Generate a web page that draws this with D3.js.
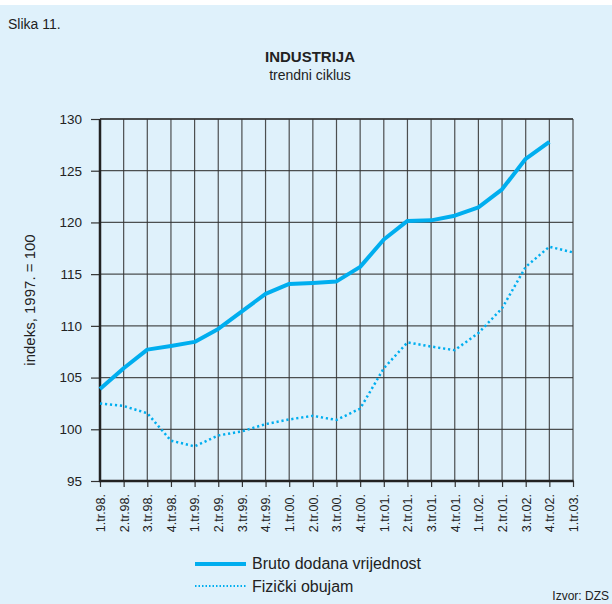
<!DOCTYPE html>
<html>
<head>
<meta charset="utf-8">
<script src="https://cdn.jsdelivr.net/npm/d3@7"></script>
<style>
  body { margin: 0; background: #fff; }
  svg { display: block; font-family: "Liberation Sans", Arial, sans-serif; }
</style>
</head>
<body>
<svg id="chart" width="612" height="604"></svg>
<script>
// quarters on the x axis
var quarters = ["1.tr.98.", "2.tr.98.", "3.tr.98.", "4.tr.98.", "1.tr.99.", "2.tr.99.", "3.tr.99.", "4.tr.99.",
  "1.tr.00.", "2.tr.00.", "3.tr.00.", "4.tr.00.", "1.tr.01.", "2.tr.01.", "3.tr.01.", "4.tr.01.",
  "1.tr.02.", "2.tr.01.", "3.tr.02.", "4.tr.02.", "1.tr.03."];

// index values, 1997 = 100
var brutoValues = [103.9, 105.9, 107.7, 108.05, 108.45, 109.7, 111.4, 113.1, 114.05, 114.15,
  114.3, 115.7, 118.35, 120.15, 120.2, 120.65, 121.45, 123.2, 126.15, 127.8];
var fizickiValues = [102.5, 102.25, 101.55, 98.9, 98.35, 99.4, 99.8, 100.5, 100.95, 101.3,
  100.9, 102.0, 105.9, 108.4, 108.0, 107.65, 109.3, 111.7, 115.7, 117.65, 117.1];

var yTicks = [95, 100, 105, 110, 115, 120, 125, 130];

var svg = d3.select("svg#chart");
var blue = "#00aeef";

// background panel
svg.append("rect")
  .attr("x", 0).attr("y", 5)
  .attr("width", 612).attr("height", 599)
  .attr("fill", "#dff1fb");

var plotLeft = 100, plotRight = 573, plotTop = 119, plotBottom = 481;

var x = d3.scalePoint()
  .domain(d3.range(quarters.length))
  .range([plotLeft, plotRight]);

var y = d3.scaleLinear()
  .domain([95, 130])
  .range([plotBottom, plotTop]);

// titles
svg.append("text").attr("x", 8).attr("y", 29)
  .attr("font-size", 14).attr("fill", "#222").text("Slika 11.");
svg.append("text").attr("x", 310).attr("y", 62)
  .attr("text-anchor", "middle").attr("font-size", 15).attr("font-weight", "bold")
  .attr("fill", "#222").text("INDUSTRIJA");
svg.append("text").attr("x", 310).attr("y", 80)
  .attr("text-anchor", "middle").attr("font-size", 14)
  .attr("fill", "#222").text("trendni ciklus");

// grid
svg.append("g").selectAll("line.vgrid")
  .data(d3.range(1, quarters.length))
  .enter().append("line")
  .attr("class", "vgrid")
  .attr("x1", d => x(d)).attr("x2", d => x(d))
  .attr("y1", plotTop).attr("y2", plotBottom)
  .attr("stroke", "#333").attr("stroke-width", 1.2).attr("opacity", 0.85);

svg.append("g").selectAll("line.hgrid")
  .data(yTicks.slice(1))
  .enter().append("line")
  .attr("class", "hgrid")
  .attr("x1", plotLeft).attr("x2", plotRight)
  .attr("y1", d => y(d)).attr("y2", d => y(d))
  .attr("stroke", "#333").attr("stroke-width", 1.2).attr("opacity", 0.85);

// axes
var yAxis = svg.append("g")
  .attr("transform", "translate(" + plotLeft + ",0)")
  .call(d3.axisLeft(y).tickValues(yTicks).tickSize(9).tickPadding(9));
yAxis.select(".domain").remove();
yAxis.selectAll(".tick line").attr("stroke", "#333").attr("stroke-width", 1.2);
yAxis.selectAll(".tick text").attr("font-size", 13.5).attr("fill", "#222")
  .attr("font-family", "Liberation Sans, Arial, sans-serif");

var xAxis = svg.append("g")
  .attr("transform", "translate(0," + plotBottom + ")")
  .call(d3.axisBottom(x).tickSize(6).tickFormat(i => quarters[i]));
xAxis.select(".domain").remove();
xAxis.selectAll(".tick line").attr("stroke", "#333").attr("stroke-width", 1.2);
xAxis.selectAll(".tick text")
  .attr("font-size", 12.5).attr("fill", "#222")
  .attr("font-family", "Liberation Sans, Arial, sans-serif")
  .attr("transform", "rotate(-90)")
  .attr("text-anchor", "end")
  .attr("x", -13).attr("y", 0).attr("dy", "0.35em");

svg.append("line")
  .attr("x1", plotLeft).attr("x2", plotLeft).attr("y1", plotTop).attr("y2", plotBottom + 1)
  .attr("stroke", "#222").attr("stroke-width", 2.5);
svg.append("line")
  .attr("x1", plotLeft - 1).attr("x2", plotRight + 0.6).attr("y1", plotBottom).attr("y2", plotBottom)
  .attr("stroke", "#222").attr("stroke-width", 2.5);
svg.append("line")
  .attr("x1", plotLeft).attr("x2", plotRight).attr("y1", plotTop).attr("y2", plotTop)
  .attr("stroke", "#333").attr("stroke-width", 1.5);

// y axis title
svg.append("text")
  .attr("transform", "translate(35,300) rotate(-90)")
  .attr("text-anchor", "middle").attr("font-size", 15).attr("fill", "#222")
  .text("indeks, 1997. = 100");

// series lines
var line = d3.line()
  .x((d, i) => x(i))
  .y(d => y(d));

svg.append("path")
  .datum(fizickiValues)
  .attr("d", line)
  .attr("fill", "none").attr("stroke", blue)
  .attr("stroke-width", 2.5).attr("stroke-dasharray", "2.2,2.8");

svg.append("path")
  .datum(brutoValues)
  .attr("d", line)
  .attr("fill", "none").attr("stroke", blue)
  .attr("stroke-width", 4).attr("stroke-linejoin", "round");

// legend
svg.append("line").attr("x1", 195).attr("x2", 246).attr("y1", 564).attr("y2", 564)
  .attr("stroke", blue).attr("stroke-width", 4);
svg.append("text").attr("x", 252).attr("y", 569)
  .attr("font-size", 16).attr("fill", "#222").text("Bruto dodana vrijednost");
svg.append("line").attr("x1", 195).attr("x2", 246).attr("y1", 586).attr("y2", 586)
  .attr("stroke", blue).attr("stroke-width", 2).attr("stroke-dasharray", "1.5,2");
svg.append("text").attr("x", 252).attr("y", 592)
  .attr("font-size", 16).attr("fill", "#222").text("Fizički obujam");

svg.append("text").attr("x", 609).attr("y", 600)
  .attr("text-anchor", "end").attr("font-size", 12).attr("fill", "#222").text("Izvor: DZS");
</script>
</body>
</html>
